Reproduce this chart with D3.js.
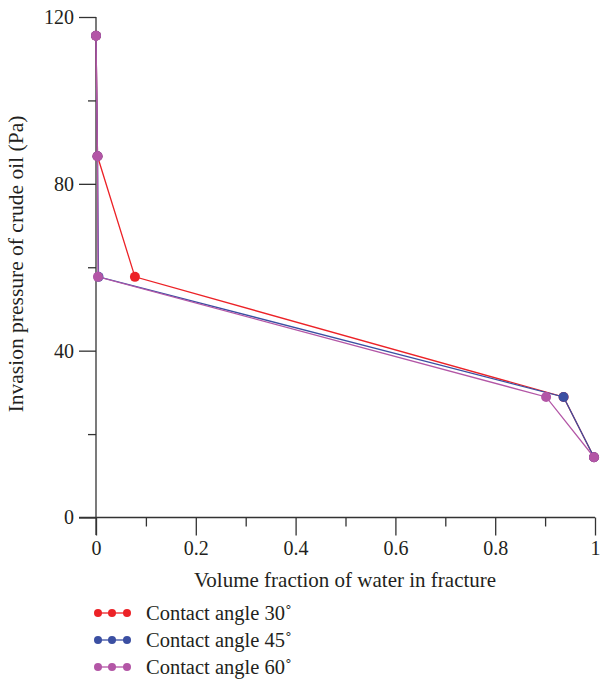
<!DOCTYPE html>
<html lang="en">
<head>
    <meta charset="UTF-8">
    <title>Invasion pressure vs water fraction</title>
    <script src="https://d3js.org/d3.v7.min.js"></script>
</head>
<body style="margin: 0px; background: #fff;">
<script>
    // data
    var seriesNames = ['Contact angle 30˚', 'Contact angle 45˚', 'Contact angle 60˚'];
    var seriesColors = ['#ec2227', '#3b4fa2', '#b356a6'];
    var water30 = [0, 0.003, 0.078, 0.937, 0.998];
    var water45 = [0, 0.003, 0.005, 0.937, 0.998];
    var water60 = [0, 0.003, 0.004, 0.902, 0.998];
    var pressure = [115.5, 86.6, 57.7, 28.9, 14.45];
    var xMajor = [0, 0.2, 0.4, 0.6, 0.8, 1];
    var xMinor = [0.1, 0.3, 0.5, 0.7, 0.9];
    var yMajor = [0, 40, 80, 120];
    var yMinor = [20, 60, 100];

    var width = 600, height = 679;
    var svg = d3.select('body').append('svg')
        .attr('width', width)
        .attr('height', height)
        .style('font-family', '"Liberation Serif", "DejaVu Serif", serif')
        .style('fill', '#231f20');

    var x = d3.scaleLinear().domain([0, 1]).range([96, 595]);
    var y = d3.scaleLinear().domain([0, 120]).range([517.5, 17]);

    var fmt = function (d) { return d === 0 ? '0' : d === 1 ? '1' : d3.format('.1f')(d); };

    // x axis
    var gx = svg.append('g').attr('transform', 'translate(0,' + y(0) + ')');
    gx.call(d3.axisBottom(x).tickValues(xMajor).tickSize(18).tickPadding(5).tickFormat(fmt));
    gx.append('g').call(d3.axisBottom(x).tickValues(xMinor).tickSize(9).tickFormat(''));
    gx.selectAll('.domain').remove();
    gx.append('line').attr('x1', 79).attr('x2', x(1)).attr('stroke', '#333').attr('stroke-width', 1.3);

    // y axis
    var gy = svg.append('g').attr('transform', 'translate(' + x(0) + ',0)');
    gy.call(d3.axisLeft(y).tickValues(yMajor).tickSize(17).tickPadding(5));
    gy.append('g').call(d3.axisLeft(y).tickValues(yMinor).tickSize(8).tickFormat(''));
    gy.selectAll('.domain').remove();
    gy.append('line').attr('y1', y(120)).attr('y2', 535).attr('stroke', '#333').attr('stroke-width', 1.3);

    svg.selectAll('.tick line').attr('stroke', '#333').attr('stroke-width', 1.3);
    svg.selectAll('.tick text')
        .attr('fill', '#231f20')
        .style('font-family', '"Liberation Serif", "DejaVu Serif", serif')
        .style('font-size', '20px');

    // axis titles
    svg.append('text')
        .attr('x', 345).attr('y', 587)
        .attr('text-anchor', 'middle')
        .style('font-size', '21px')
        .text('Volume fraction of water in fracture');
    svg.append('text')
        .attr('transform', 'translate(23,264) rotate(-90)')
        .attr('text-anchor', 'middle')
        .style('font-size', '21.5px')
        .text('Invasion pressure of crude oil (Pa)');

    // series
    var allX = [water30, water45, water60];
    var line = d3.line().x(function (d) { return x(d[0]); }).y(function (d) { return y(d[1]); });
    allX.forEach(function (xs, s) {
        var pts = xs.map(function (v, i) { return [v, pressure[i]]; });
        svg.append('path')
            .attr('d', line(pts))
            .attr('fill', 'none')
            .attr('stroke', seriesColors[s])
            .attr('stroke-width', 1.3);
        svg.selectAll('circle.s' + s)
            .data(pts).enter().append('circle')
            .attr('class', 's' + s)
            .attr('cx', function (d) { return x(d[0]); })
            .attr('cy', function (d) { return y(d[1]); })
            .attr('r', 5)
            .attr('fill', seriesColors[s]);
    });

    // legend
    var legend = svg.selectAll('g.legend')
        .data(seriesNames).enter().append('g')
        .attr('class', 'legend')
        .attr('transform', function (d, i) { return 'translate(0,' + (613 + i * 27) + ')'; });
    legend.append('line')
        .attr('x1', 98).attr('x2', 127)
        .attr('stroke', function (d, i) { return seriesColors[i]; })
        .attr('stroke-width', 1.3);
    legend.selectAll('circle')
        .data(function (d, i) { return [[98, i], [112, i], [127, i]]; })
        .enter().append('circle')
        .attr('cx', function (d) { return d[0]; })
        .attr('r', 4)
        .attr('fill', function (d) { return seriesColors[d[1]]; });
    legend.append('text')
        .attr('x', 146).attr('y', 7)
        .style('font-size', '20.5px')
        .text(function (d) { return d; });
</script>
</body>
</html>
